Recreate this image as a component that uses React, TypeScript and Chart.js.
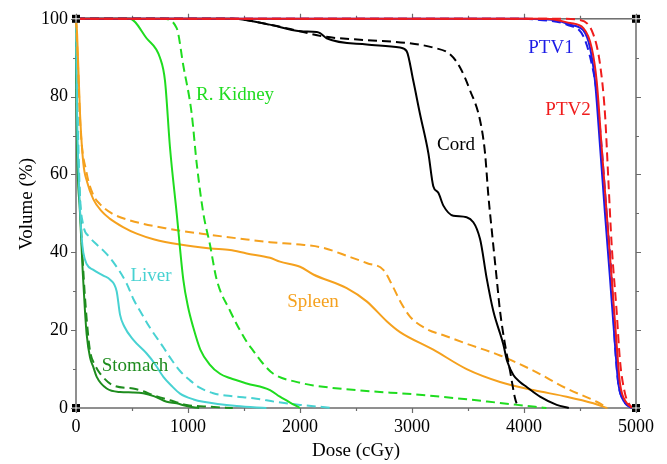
import React, { useEffect, useRef } from 'react';
import { Chart, registerables } from 'chart.js';

Chart.register(...registerables);

// ---------- data (dose in cGy, volume in %) ----------
const ptv2SolidDose = [0, 4200, 4411, 4530, 4604, 4649, 4693, 4738, 4783, 4827, 4857, 4917, 4990];
const ptv2SolidVol = [100, 100, 98.9, 97.6, 92.6, 84, 67.2, 50, 33.3, 16.4, 6.3, 1.3, 0];
const ptv2DashDose = [0, 4300, 4500, 4619, 4679, 4723, 4753, 4783, 4827, 4857, 4902, 4960];
const ptv2DashVol = [100, 100, 99.7, 96, 88.3, 75.6, 58.7, 41.8, 24.9, 12.2, 3.7, 0];
const ptv1SolidDose = [0, 4000, 4300, 4411, 4530, 4589, 4634, 4679, 4723, 4768, 4812, 4842, 4902, 4970];
const ptv1SolidVol = [100, 100, 99.5, 98.5, 97, 92.6, 84, 67.2, 50, 33.3, 16.4, 6.3, 1.3, 0];
const ptv1DashDose = [0, 4000, 4143, 4381, 4530, 4604, 4649, 4693, 4738, 4783, 4812, 4842, 4887, 4946, 5000];
const ptv1DashVol = [100, 100, 99.7, 98.5, 95.5, 88.5, 81, 67, 50, 33.3, 16.4, 6.3, 2, 0.3, 0];

const cordSolidDose = [0, 1400, 1550, 1730, 2000, 2150, 2179, 2238, 2595, 2893, 2952, 3012, 3071, 3146, 3190, 3235, 3280, 3369, 3488, 3607, 3667, 3726, 3815, 3850, 3905, 3964, 4024, 4143, 4292, 4400];
const cordSolidVol = [100, 100, 99.5, 98.5, 96.8, 96.6, 96.3, 95, 93.4, 92.6, 91.7, 84, 75.6, 65.5, 57, 55.3, 52, 49.4, 49, 43.5, 33.3, 24.9, 16.4, 12, 8.5, 6.7, 5.4, 2.9, 0.8, 0];
const cordDashDose = [0, 1400, 1730, 2000, 2200, 2600, 2952, 3190, 3339, 3429, 3518, 3607, 3652, 3682, 3711, 3756, 3786, 3830, 3875, 3920, 3950];
const cordDashVol = [100, 100, 98.5, 96.8, 95.5, 94.5, 93.8, 92.6, 90.9, 87.5, 81.6, 74, 65.5, 54.5, 46, 33.3, 24.9, 16.4, 9.6, 2.5, 0];

const kidneySolidDose = [0, 480, 630, 750, 795, 839, 899, 958, 1000, 1048, 1110, 1190, 1286, 1374, 1524, 1732, 1821, 1950, 2000];
const kidneySolidVol = [100, 100, 95, 90, 84, 67, 50, 33, 26, 20.6, 15, 11.3, 8.8, 7.7, 6.3, 4.6, 2.9, 0.8, 0];
const kidneyDashDose = [0, 780, 899, 958, 1033, 1077, 1137, 1196, 1256, 1375, 1524, 1583, 1673, 1762, 2000, 2119, 2714, 2893, 3400, 3786, 4100, 4200];
const kidneyDashVol = [100, 100, 97.6, 88, 75.6, 63, 50, 42, 33, 25, 17, 14.7, 11.3, 8.8, 6.5, 5.8, 4.1, 3.8, 2.5, 1.3, 0.3, 0];

const spleenSolidDose = [0, 10, 36, 65, 100, 155, 230, 304, 420, 542, 700, 929, 1200, 1375, 1524, 1732, 1821, 2000, 2119, 2417, 2595, 2774, 2893, 3190, 3488, 3786, 4083, 4381, 4619, 4740];
const spleenSolidVol = [100, 96, 75.6, 63, 58, 53.6, 50.5, 48.6, 46.5, 44.8, 43.3, 42, 41, 40.6, 39.7, 38.6, 37.6, 36.3, 34.3, 30.8, 27.4, 22.3, 19.5, 15, 10, 6.7, 4.6, 2.9, 1.2, 0];
const spleenDashDose = [0, 15, 40, 95, 150, 214, 320, 482, 839, 1196, 1524, 1732, 2000, 2200, 2446, 2600, 2744, 2833, 2893, 2982, 3131, 3300, 3488, 3786, 4083, 4381, 4649, 4750];
const spleenDashVol = [100, 90, 72, 60.4, 55, 52.4, 50, 48.2, 46, 44.5, 43.3, 42.6, 42, 41.2, 38.8, 37.2, 35.5, 31, 27.5, 23.5, 20.3, 18.5, 16.5, 13.5, 9.6, 5, 1.6, 0];

const liverSolidDose = [0, 10, 30, 50, 65, 95, 155, 244, 304, 363, 393, 430, 512, 631, 700, 780, 850, 929, 1050, 1137, 1435, 1700];
const liverSolidVol = [100, 75, 55, 44, 40, 37, 35.5, 34, 33, 30, 24, 21, 17.5, 14, 11.5, 8, 5.8, 3.7, 2.2, 1.6, 0.5, 0];
const liverDashDose = [0, 15, 35, 65, 120, 185, 260, 333, 452, 512, 571, 661, 780, 839, 929, 1018, 1100, 1226, 1400, 1583, 1800, 2000, 2300];
const liverDashVol = [100, 75, 55, 47, 44, 42, 40, 37.5, 32, 28, 25, 20.6, 15.6, 13, 9.5, 7.1, 5.3, 3.8, 3, 2.5, 1.5, 0.8, 0];

const stomachSolidDose = [0, 6, 36, 60, 80, 95, 125, 155, 185, 274, 393, 509, 600, 700, 810, 899, 988, 1100];
const stomachSolidVol = [100, 75, 50, 35, 25, 19, 13, 10.5, 8, 5, 4.1, 4, 3.8, 3, 1.6, 1.2, 0.5, 0];
const stomachDashDose = [0, 10, 40, 70, 95, 125, 170, 214, 333, 509, 600, 690, 839, 988, 1200, 1400];
const stomachDashVol = [100, 75, 50, 33, 23, 14.7, 11, 8.9, 5.8, 5, 4.3, 3.3, 2, 0.8, 0.3, 0];

const seriesNames = ['PTV2', 'PTV2 dashed', 'PTV1', 'PTV1 dashed', 'Cord', 'Cord dashed', 'R. Kidney', 'R. Kidney dashed', 'Spleen', 'Spleen dashed', 'Liver', 'Liver dashed', 'Stomach', 'Stomach dashed'];
const seriesDoses = [ptv2SolidDose, ptv2DashDose, ptv1SolidDose, ptv1DashDose, cordSolidDose, cordDashDose, kidneySolidDose, kidneyDashDose, spleenSolidDose, spleenDashDose, liverSolidDose, liverDashDose, stomachSolidDose, stomachDashDose];
const seriesVols = [ptv2SolidVol, ptv2DashVol, ptv1SolidVol, ptv1DashVol, cordSolidVol, cordDashVol, kidneySolidVol, kidneyDashVol, spleenSolidVol, spleenDashVol, liverSolidVol, liverDashVol, stomachSolidVol, stomachDashVol];
const seriesColors = ['#f01c1c', '#f01c1c', '#1c1ce6', '#1c1ce6', '#000000', '#000000', '#1fdc1f', '#1fdc1f', '#f5a11e', '#f5a11e', '#48d2d2', '#48d2d2', '#1e8c1e', '#1e8c1e'];
const seriesDashed = [false, true, false, true, false, true, false, true, false, true, false, true, false, true];

// curve labels
const labelTexts = ['R. Kidney', 'Cord', 'PTV1', 'PTV2', 'Liver', 'Spleen', 'Stomach'];
const labelDoses = [1420, 3393, 4241, 4393, 670, 2116, 527];
const labelVols = [80.5, 67.6, 92.6, 76.5, 33.8, 27.2, 10.9];
const labelColors = ['#1fdc1f', '#000000', '#1c1ce6', '#f01c1c', '#48d2d2', '#f5a11e', '#1e8c1e'];

// axis ticks
const xTickValues = [0, 500, 1000, 1500, 2000, 2500, 3000, 3500, 4000, 4500, 5000];
const yTickValues = [0, 10, 20, 30, 40, 50, 60, 70, 80, 90, 100];
const xTitle = 'Dose (cGy)';
const yTitle = 'Volume (%)';

const SERIF = "'Liberation Serif', 'Times New Roman', serif";

const framePlugin = {
  id: 'frameDecor',
  beforeDatasetsDraw(chart: any) {
    const { ctx, chartArea: a, scales } = chart;
    const x = scales.x;
    const y = scales.y;
    ctx.save();
    ctx.strokeStyle = '#6b6b6b';
    ctx.lineWidth = 1.5;
    ctx.strokeRect(a.left, a.top, a.right - a.left, a.bottom - a.top);
    ctx.lineWidth = 1.2;
    ctx.beginPath();
    for (const v of xTickValues) {
      const px = Math.round(x.getPixelForValue(v)) + 0.5;
      const len = v % 1000 === 0 ? 5 : 3;
      ctx.moveTo(px, a.bottom); ctx.lineTo(px, a.bottom + len);
      ctx.moveTo(px, a.top); ctx.lineTo(px, a.top - len);
    }
    for (const v of yTickValues) {
      const py = Math.round(y.getPixelForValue(v)) + 0.5;
      const len = v % 20 === 0 ? 5 : 3;
      ctx.moveTo(a.left, py); ctx.lineTo(a.left - len, py);
      ctx.moveTo(a.right, py); ctx.lineTo(a.right + len, py);
    }
    ctx.stroke();
    ctx.restore();
  },
  afterDraw(chart: any) {
    const { ctx, chartArea: a, scales } = chart;
    const x = scales.x;
    const y = scales.y;
    ctx.save();
    // corner markers
    const corners = [[a.left, a.top], [a.right, a.top], [a.left, a.bottom], [a.right, a.bottom]];
    for (const [cx, cy] of corners) {
      ctx.fillStyle = '#000';
      ctx.fillRect(cx - 4, cy - 4, 8, 8);
      ctx.fillStyle = '#fff';
      ctx.fillRect(cx - 0.5, cy - 4, 1, 8);
      ctx.fillRect(cx - 4, cy - 0.5, 8, 1);
    }
    // curve labels
    ctx.font = `19px ${SERIF}`;
    ctx.textAlign = 'center';
    ctx.textBaseline = 'middle';
    labelTexts.forEach((t, i) => {
      ctx.fillStyle = labelColors[i];
      ctx.fillText(t, x.getPixelForValue(labelDoses[i]), y.getPixelForValue(labelVols[i]));
    });
    // axis titles
    ctx.fillStyle = '#000';
    ctx.font = `19px ${SERIF}`;
    ctx.fillText(xTitle, (a.left + a.right) / 2, 451);
    ctx.translate(27, 204);
    ctx.rotate(-Math.PI / 2);
    ctx.fillText(yTitle, 0, 0);
    ctx.restore();
  },
};

export default function App() {
  const canvasRef = useRef<HTMLCanvasElement | null>(null);

  useEffect(() => {
    if (!canvasRef.current) return;
    const datasets = seriesNames.map((name, i) => ({
      label: name,
      data: seriesDoses[i].map((d, j) => ({ x: d, y: seriesVols[i][j] })),
      borderColor: seriesColors[i],
      backgroundColor: seriesColors[i],
      borderWidth: 2,
      borderDash: seriesDashed[i] ? [9, 5] : [],
      pointRadius: 0,
      cubicInterpolationMode: 'monotone' as const,
      fill: false,
      clip: 6,
    }));
    const chart = new Chart(canvasRef.current, {
      type: 'line',
      data: { datasets },
      options: {
        animation: false,
        responsive: false,
        devicePixelRatio: 1,
        layout: { padding: { top: 14, right: 31, left: 0, bottom: 0 } },
        plugins: { legend: { display: false }, tooltip: { enabled: false } },
        scales: {
          x: {
            type: 'linear',
            min: 0,
            max: 5000,
            grid: { display: false, drawTicks: false },
            border: { display: false },
            ticks: { stepSize: 1000, color: '#000', font: { family: SERIF, size: 18 }, padding: 8, maxRotation: 0, callback: (v: any) => String(v) },
            afterFit: (s: any) => { s.height = 56; },
          },
          y: {
            type: 'linear',
            min: 0,
            max: 100,
            grid: { display: false, drawTicks: false },
            border: { display: false },
            ticks: { stepSize: 20, color: '#000', font: { family: SERIF, size: 18 }, padding: 8, callback: (v: any) => String(v) },
            afterFit: (s: any) => { s.width = 76; },
          },
        },
      },
      plugins: [framePlugin],
    });
    return () => chart.destroy();
  }, []);

  return (
    <div style={{ position: 'fixed', left: 0, top: 0, width: 667, height: 464, background: '#fff' }}>
      <canvas ref={canvasRef} width={667} height={464} style={{ display: 'block' }} />
    </div>
  );
}
